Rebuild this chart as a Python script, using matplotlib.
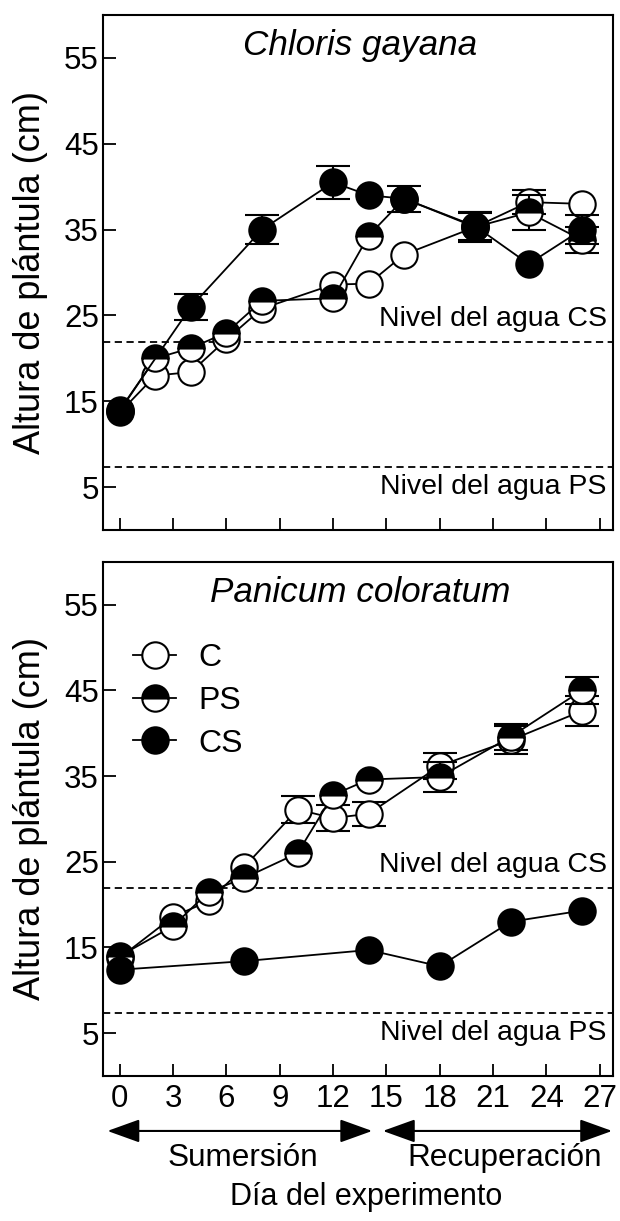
import matplotlib
matplotlib.use("Agg")
import matplotlib.pyplot as plt
import numpy as np
from matplotlib.patches import ArrowStyle

plt.rcParams['font.family'] = ['Liberation Sans', 'DejaVu Sans']

nan = np.nan  # error bar hidden behind the symbol in the original

# Chloris gayana (top)
cg_c_days = [0, 2, 4, 6, 8, 12, 14, 16, 20, 23, 26]
cg_c = [13.7, 18.0, 18.4, 22.2, 25.8, 28.6, 28.7, 32.1, 35.3, 38.2, 38.0]
cg_c_err = [nan, nan, nan, nan, nan, nan, nan, nan, 1.6, 1.4, nan]

cg_ps_days = [0, 2, 4, 6, 8, 12, 14, 16, 20, 23, 26]
cg_ps = [13.9, 20.0, 21.2, 23.0, 26.7, 27.0, 34.3, 38.6, 35.3, 37.0, 33.8]
cg_ps_err = [nan, nan, nan, nan, nan, nan, nan, nan, 1.7, 2.0, 1.5]

cg_cs_days = [0, 4, 8, 12, 14, 16, 20, 23, 26]
cg_cs = [14.0, 26.0, 35.0, 40.5, 39.0, 38.6, 35.4, 31.0, 35.0]
cg_cs_err = [nan, 1.5, 1.7, 1.9, nan, 1.5, 1.6, nan, 1.7]

# Panicum coloratum (bottom)
pc_c_days = [0, 3, 5, 7, 10, 12, 14, 18, 22, 26]
pc_c = [13.8, 18.6, 20.4, 24.4, 31.1, 30.1, 30.6, 36.2, 39.2, 42.6]
pc_c_err = [nan, nan, nan, nan, 1.6, 1.5, 1.4, 1.5, 1.6, 1.8]

pc_ps_days = [0, 3, 5, 7, 10, 12, 14, 18, 22, 26]
pc_ps = [14.0, 17.5, 21.5, 23.1, 26.0, 32.8, 34.6, 34.9, 39.6, 45.0]
pc_ps_err = [nan, nan, nan, nan, nan, nan, nan, 1.8, 1.5, 1.6]

pc_cs_days = [0, 7, 14, 18, 22, 26]
pc_cs = [12.4, 13.4, 14.7, 12.8, 18.0, 19.3]
pc_cs_err = [nan, nan, nan, nan, nan, nan]

cs_level = 21.9
ps_level = 7.4

xticks = [0, 3, 6, 9, 12, 15, 18, 21, 24, 27]
yticks = [5, 15, 25, 35, 45, 55]

fig = plt.figure(figsize=(6.2, 12.21), dpi=100)
ax1 = fig.add_axes([0.1661, 0.5659, 0.8226, 0.4218])
ax2 = fig.add_axes([0.1661, 0.1188, 0.8226, 0.4210])

style = dict(color='black', lw=1.3, ms=19, mew=1.5, mec='black',
             capsize=12, capthick=1.5, elinewidth=1.5, ecolor='black')


def panel(ax, title, c, ps, cs):
    h = []
    h.append(ax.errorbar(c[0], c[1], yerr=c[2], fmt='-o', mfc='white',
                         zorder=3, **style))
    h.append(ax.errorbar(ps[0], ps[1], yerr=ps[2], fmt='-o', mfc='black',
                         fillstyle='top', markerfacecoloralt='white',
                         zorder=4, **style))
    h.append(ax.errorbar(cs[0], cs[1], yerr=cs[2], fmt='-o', mfc='black',
                         zorder=5, **style))
    ax.axhline(cs_level, color='black', ls=(0, (4, 2.5)), lw=1.3, zorder=1)
    ax.axhline(ps_level, color='black', ls=(0, (4, 2.5)), lw=1.3, zorder=1)
    ax.text(0.988, cs_level + 2.7, 'Nivel del agua CS', transform=ax.get_yaxis_transform(),
            ha='right', va='center', fontsize=20.5)
    ax.text(0.988, ps_level - 2.4, 'Nivel del agua PS', transform=ax.get_yaxis_transform(),
            ha='right', va='center', fontsize=20.5)
    ax.text(0.505, 0.94, title, transform=ax.transAxes, ha='center', va='center',
            fontsize=25.3, style='italic')
    ax.set_xlim(-0.95, 27.75)
    ax.set_ylim(0, 60)
    ax.set_xticks(xticks)
    ax.set_yticks(yticks)
    ax.tick_params(direction='in', length=9, width=1.3, labelsize=22.5)
    ax.tick_params(axis='y', pad=3)
    ax.tick_params(axis='x', pad=6)
    for s in ax.spines.values():
        s.set_linewidth(1.5)
    ax.set_ylabel('Altura de plántula (cm)', fontsize=26)
    ax.yaxis.set_label_coords(-0.107, 0.5)
    return h


panel(ax1, 'Chloris gayana', (cg_c_days, cg_c, cg_c_err),
      (cg_ps_days, cg_ps, cg_ps_err), (cg_cs_days, cg_cs, cg_cs_err))
ax1.tick_params(axis='x', labelbottom=False)

h = panel(ax2, 'Panicum coloratum', (pc_c_days, pc_c, pc_c_err),
          (pc_ps_days, pc_ps, pc_ps_err), (pc_cs_days, pc_cs, pc_cs_err))
ax2.legend([hh[0] for hh in h], ['C', 'PS', 'CS'], loc='upper left',
           bbox_to_anchor=(0.059, 0.842), frameon=False, fontsize=23,
           handlelength=1.35, handletextpad=0.7, labelspacing=0.4,
           borderpad=0, borderaxespad=0)

# period arrows under the x axis
astyle = ArrowStyle('<|-|>', head_length=1.0, head_width=0.36)
trans = ax2.get_xaxis_transform()
for x0, x1 in [(-0.7, 14.2), (14.8, 27.7)]:
    ax2.annotate('', xy=(x1, -0.107), xytext=(x0, -0.107), xycoords=trans,
                 textcoords=trans, annotation_clip=False,
                 arrowprops=dict(arrowstyle=astyle, mutation_scale=20,
                                 color='black', lw=1.5, shrinkA=0, shrinkB=0))
ax2.text(6.9, -0.16, 'Sumersión', transform=trans, ha='center', va='center',
         fontsize=22.7)
ax2.text(21.65, -0.16, 'Recuperación', transform=trans, ha='center', va='center',
         fontsize=22.7)
ax2.set_xlabel('Día del experimento', fontsize=22, va='center')
ax2.xaxis.set_label_coords(0.515, -0.235)

fig.savefig('out.png', dpi=100)
